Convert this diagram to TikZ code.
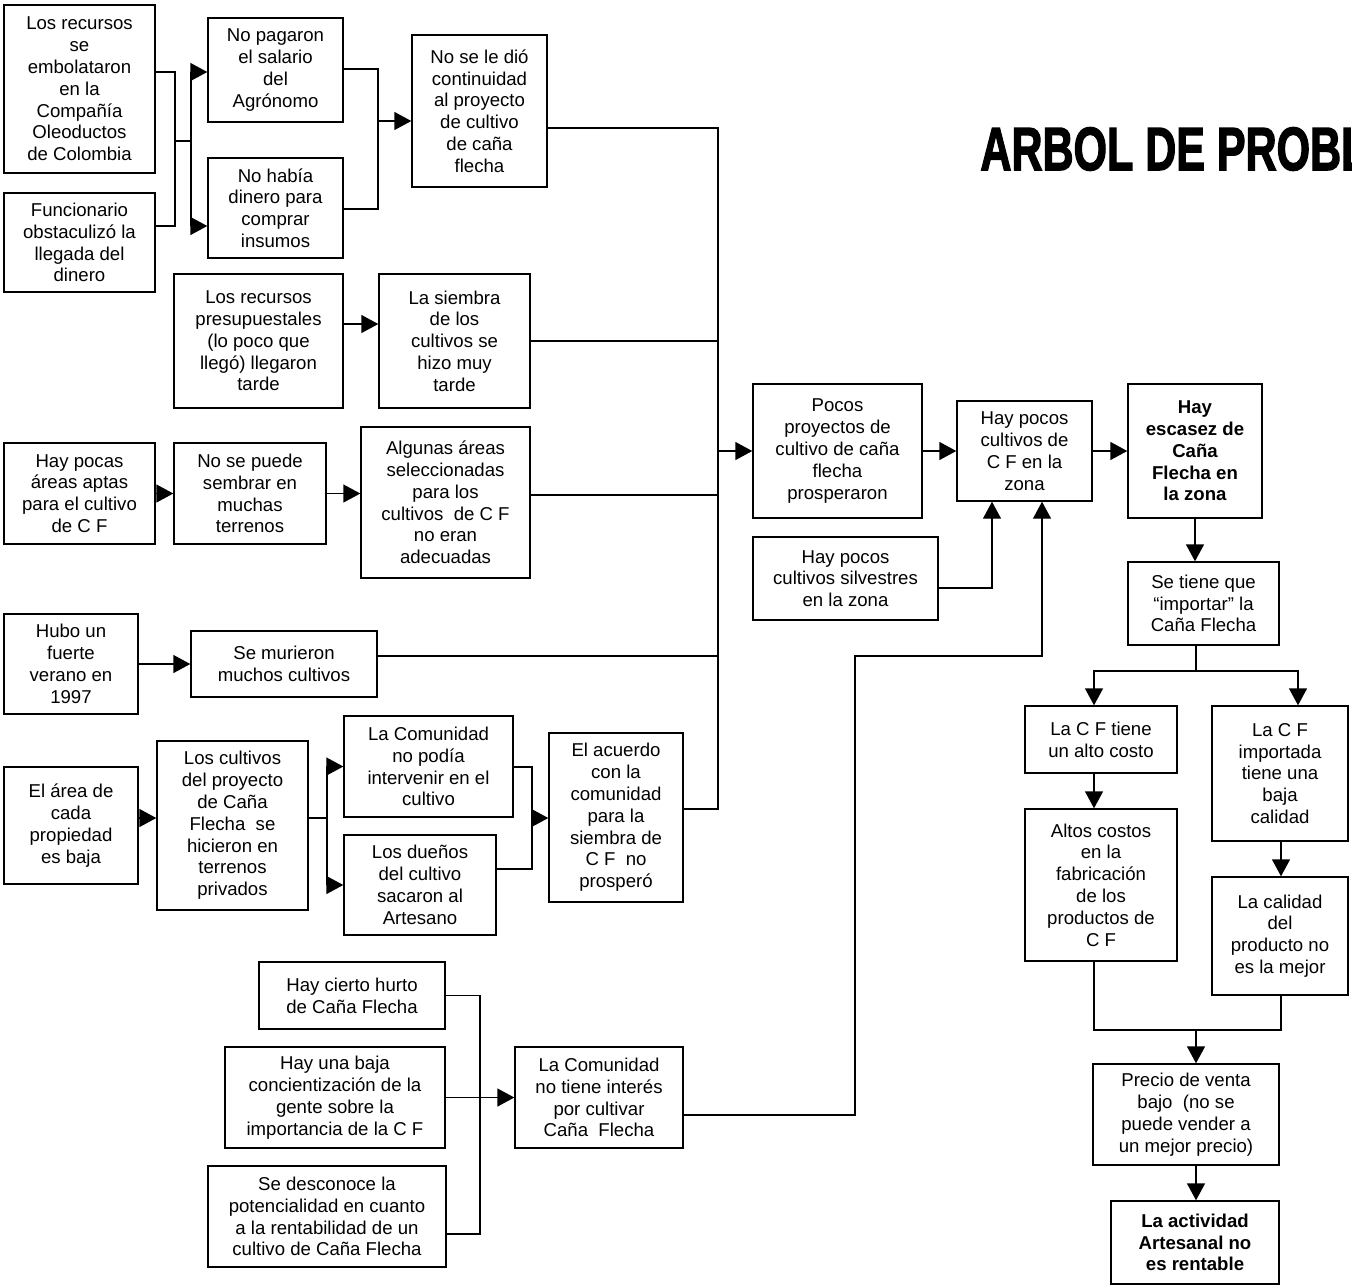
\documentclass[tikz,border=0pt]{standalone}
\usepackage{fontspec}
\usepackage{graphicx}
\setmainfont{Liberation Sans}
\newfontfamily\titlefont[FakeBold=2.5]{Liberation Sans}
\usetikzlibrary{arrows.meta}
\newcommand\bx[6]{\node[box,minimum width={(#4-#2)*0.5pt},minimum height={(#5-#3)*0.5pt}] (#1) at ({(#2+#4)/2},{(#3+#5)/2}) {#6};}
\tikzset{
  box/.style={draw, line width=0.7pt, align=center, inner sep=1pt, font=\fontsize{9.3}{10.9}\selectfont},
  ln/.style={line width=0.7pt},
  arr/.style={ln, -{Triangle[length=8.5pt,width=9pt]}}
}
\begin{document}
\begin{tikzpicture}[x=0.5pt,y=-0.5pt]
\useasboundingbox (0,0) rectangle (1352,1286);
% boxes
\bx{A1}{4}{5}{155}{173}{Los recursos\\se\\embolataron\\en la\\Compañía\\Oleoductos\\de Colombia}
\bx{A2}{4}{193}{155}{292}{Funcionario\\obstaculizó la\\llegada del\\dinero}
\bx{B1}{208}{18}{343}{122}{No pagaron\\el salario\\del\\Agrónomo}
\bx{B2}{208}{158}{343}{258}{No había\\dinero para\\comprar\\insumos}
\bx{C}{412}{35}{547}{187}{No se le dió\\continuidad\\al proyecto\\de cultivo\\de caña\\flecha}
\bx{D1}{174}{274}{343}{408}{Los recursos\\presupuestales\\(lo poco que\\llegó) llegaron\\tarde}
\bx{D2}{379}{274}{530}{408}{La siembra\\de los\\cultivos se\\hizo muy\\tarde}
\bx{E1}{4}{443}{155}{544}{Hay pocas\\áreas aptas\\para el cultivo\\de C F}
\bx{E2}{174}{443}{326}{544}{No se puede\\sembrar en\\muchas\\terrenos}
\bx{E3}{361}{427}{530}{578}{Algunas áreas\\seleccionadas\\para los\\cultivos\ \ de C F\\no eran\\adecuadas}
\bx{F1}{4}{614}{138}{714}{Hubo un\\fuerte\\verano en\\1997}
\bx{F2}{191}{631}{377}{697}{Se murieron\\muchos cultivos}
\bx{G1}{4}{767}{138}{884}{El área de\\cada\\propiedad\\es baja}
\bx{G2}{157}{741}{308}{910}{Los cultivos\\del proyecto\\de Caña\\Flecha\ \ se\\hicieron en\\terrenos\\privados}
\bx{G3}{344}{716}{513}{817}{La Comunidad\\no podía\\intervenir en el\\cultivo}
\bx{G4}{344}{835}{496}{935}{Los dueños\\del cultivo\\sacaron al\\Artesano}
\bx{G5}{549}{733}{683}{902}{El acuerdo\\con la\\comunidad\\para la\\siembra de\\C F\ \ no\\prosperó}
\bx{H1}{259}{962}{445}{1029}{Hay cierto hurto\\de Caña Flecha}
\bx{H2}{225}{1047}{445}{1148}{Hay una baja\\concientización de la\\gente sobre la\\importancia de la C F}
\bx{H3}{208}{1166}{446}{1267}{Se desconoce la\\potencialidad en cuanto\\a la rentabilidad de un\\cultivo de Caña Flecha}
\bx{H4}{515}{1047}{683}{1148}{La Comunidad\\no tiene interés\\por cultivar\\Caña\ \ Flecha}
\bx{P}{753}{384}{922}{518}{Pocos\\proyectos de\\cultivo de caña\\flecha\\prosperaron}
\bx{Q}{957}{401}{1092}{501}{Hay pocos\\cultivos de\\C F en la\\zona}
\bx{R}{1128}{384}{1262}{518}{\bfseries Hay\\\bfseries escasez de\\\bfseries Caña\\\bfseries Flecha en\\\bfseries la zona}
\bx{S}{753}{537}{938}{620}{Hay pocos\\cultivos silvestres\\en la zona}
\bx{T}{1128}{562}{1279}{645}{Se tiene que\\“importar” la\\Caña Flecha}
\bx{U1}{1025}{706}{1177}{773}{La C F tiene\\un alto costo}
\bx{U2}{1212}{706}{1348}{841}{La C F\\importada\\tiene una\\baja\\calidad}
\bx{V1}{1025}{809}{1177}{961}{Altos costos\\en la\\fabricación\\de los\\productos de\\C F}
\bx{V2}{1212}{877}{1348}{995}{La calidad\\del\\producto no\\es la mejor}
\bx{W}{1093}{1064}{1279}{1165}{Precio de venta\\bajo\ \ (no se\\puede vender a\\un mejor precio)}
\bx{X}{1111}{1201}{1279}{1284}{\bfseries La actividad\\\bfseries Artesanal no\\\bfseries es rentable}
% title (cut off at the right edge, as in the reference)
\begin{scope}
\clip (0,0) rectangle (1352,1286);
\node[anchor=base west, inner sep=0pt, font=\titlefont\fontsize{30.5}{30.5}\selectfont\bfseries] (title) at (980,170) {\scalebox{0.705}[1]{ARBOL DE PROBLEMAS}};
\end{scope}
% connectors
\coordinate (j1) at (175,141);
\coordinate (j2) at (191,141);
\draw[ln] (A1.east |- 0,72) -| (j1) |- (A2.east |- 0,226);
\draw[ln] (j1) -- (j2);
\draw[arr] (j2) |- (B1.west |- 0,72);
\draw[arr] (j2) |- (B2.west |- 0,226);
\coordinate (j3) at (378,121);
\draw[ln] (B1.east |- 0,69) -| (j3) |- (B2.east |- 0,209);
\draw[arr] (j3) -- (C.west |- j3);
% bus
\coordinate (bt) at (718,128);
\coordinate (bb) at (718,809);
\draw[ln] (C.east |- bt) -- (bt) -- (bb) -- (G5.east |- bb);
\draw[ln] (D2.east) -- (D2.east -| bt);
\draw[ln] (E3.east |- 0,495) -- (bt |- 0,495);
\draw[ln] (F2.east |- 0,656) -- (bt |- 0,656);
\draw[arr] (bt |- P.west) -- (P.west);
\draw[arr] (D1.east |- 0,324) -- (D2.west |- 0,324);
\draw[arr] (E1) -- (E2);
\draw[arr] (E2.east) -- (E3.west |- E2.east);
\draw[arr] (F1) -- (F2);
\draw[arr] (G1.east |- 0,818) -- (G2.west |- 0,818);
\coordinate (j4) at (327,818);
\draw[ln] (G2.east |- j4) -- (j4);
\draw[arr] (j4) |- (G3.west);
\draw[arr] (j4) |- (G4.west);
\coordinate (j5) at (532,818);
\draw[ln] (G3.east |- 0,767) -| (j5) |- (G4.east |- 0,869);
\draw[arr] (j5) -- (G5.west |- j5);
% bottom group
\coordinate (j6) at (480,1098);
\draw[ln] (H1.east) -| (j6) |- (H3.east |- 0,1234);
\draw[arr] (H2.east) -- (H4.west);
\coordinate (k1) at (855,656);
\draw[arr] (H4.east |- 0,1115) -| (k1) -| (Q.south -| 1042,0);
\draw[arr] (S.east |- 0,588) -| (Q.south -| 992,0);
% right chain
\draw[arr] (P) -- (Q);
\draw[arr] (Q) -- (R);
\draw[arr] (R.south) -- (R.south |- T.north);
\coordinate (j7) at (1196,671);
\draw[ln] (T.south -| j7) -- (j7);
\draw[arr] (j7) -| (U1.north -| 1094,0);
\draw[arr] (j7) -| (U2.north -| 1298,0);
\draw[arr] (U1.south -| 1094,0) -- (V1.north -| 1094,0);
\draw[arr] (U2.south -| 1281,0) -- (V2.north -| 1281,0);
\coordinate (j8) at (1196,1030);
\draw[ln] (V1.south -| 1094,0) |- (j8) -| (V2.south -| 1281,0);
\draw[arr] (j8) -- (W.north -| j8);
\draw[arr] (W.south -| 1196,0) -- (X.north -| 1196,0);
\end{tikzpicture}
\end{document}
